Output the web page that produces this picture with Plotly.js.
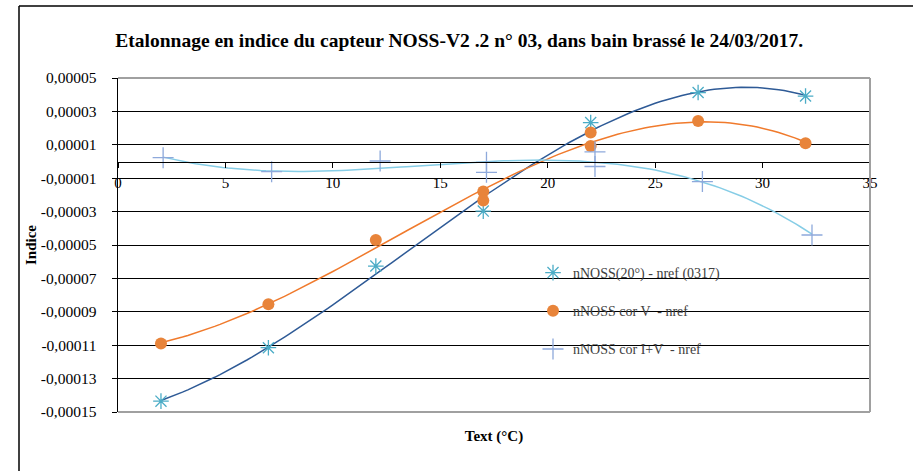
<!DOCTYPE html>
<html>
<head>
<meta charset="utf-8">
<script src="https://cdn.plot.ly/plotly-3.0.1.min.js"></script>
<style>html,body{margin:0;padding:0;background:#fff;}#chart{width:913px;height:471px;}</style>
</head>
<body>
<div id="chart"></div>
<script>
// ---- data ----
var seriesNames = ["nNOSS(20°) - nref (0317)", "nNOSS cor V  - nref", "nNOSS cor I+V  - nref"];

var x1 = [2, 7, 12, 17, 22, 27, 32];
var y1 = [-0.0001435, -0.0001115, -0.0000626, -0.0000297, 0.0000233, 0.0000413, 0.0000392];

var x2 = [2, 7, 12, 17, 17, 22, 22, 27, 32];
var y2 = [-0.000109, -0.0000855, -0.000047, -0.0000179, -0.0000233, 0.0000173, 0.0000093, 0.0000243, 0.0000109];

var x3 = [2.1, 7.15, 12.2, 17.15, 17.15, 22.2, 22.2, 27.2, 32.3];
var y3 = [0.0000023, -0.0000061, 0.0000003, -0.0000005, -0.0000065, 0.0000058, -0.0000030, -0.000012, -0.000044];

var yTickVals = [0.00005, 0.00003, 0.00001, -0.00001, -0.00003, -0.00005, -0.00007, -0.00009, -0.00011, -0.00013, -0.00015];
var yTickText = ["0,00005", "0,00003", "0,00001", "-0,00001", "-0,00003", "-0,00005", "-0,00007", "-0,00009", "-0,00011", "-0,00013", "-0,00015"];
var xTickVals = [0, 5, 10, 15, 20, 25, 30, 35];
var xTickText = ["0", "5", "10", "15", "20", "25", "30", "35"];

// ---- polynomial trend lines (least squares fit of the data) ----
function polyfit(xs, ys, deg) {
  var n = deg + 1, A = [], b = [];
  for (var i = 0; i < n; i++) {
    A.push([]);
    for (var j = 0; j < n; j++) {
      var s = 0;
      for (var k = 0; k < xs.length; k++) s += Math.pow(xs[k], i + j);
      A[i].push(s);
    }
    var t = 0;
    for (var k2 = 0; k2 < xs.length; k2++) t += ys[k2] * Math.pow(xs[k2], i);
    b.push(t);
  }
  for (var c = 0; c < n; c++) {
    var p = c;
    for (var r = c + 1; r < n; r++) if (Math.abs(A[r][c]) > Math.abs(A[p][c])) p = r;
    var tmp = A[c]; A[c] = A[p]; A[p] = tmp;
    var tb = b[c]; b[c] = b[p]; b[p] = tb;
    for (var r2 = c + 1; r2 < n; r2++) {
      var f = A[r2][c] / A[c][c];
      for (var cc = c; cc < n; cc++) A[r2][cc] -= f * A[c][cc];
      b[r2] -= f * b[c];
    }
  }
  var coef = new Array(n);
  for (var r3 = n - 1; r3 >= 0; r3--) {
    var s2 = b[r3];
    for (var cc2 = r3 + 1; cc2 < n; cc2++) s2 -= A[r3][cc2] * coef[cc2];
    coef[r3] = s2 / A[r3][r3];
  }
  return coef;
}
function trend(xs, ys, deg) {
  var coef = polyfit(xs, ys, deg);
  var lo = Math.min.apply(null, xs), hi = Math.max.apply(null, xs);
  var tx = [], ty = [];
  for (var i = 0; i <= 120; i++) {
    var xv = lo + (hi - lo) * i / 120, yv = 0;
    for (var j = 0; j < coef.length; j++) yv += coef[j] * Math.pow(xv, j);
    tx.push(xv); ty.push(yv);
  }
  return {x: tx, y: ty};
}
var t1 = trend(x1, y1, 3), t2 = trend(x2, y2, 3), t3 = trend(x3, y3, 3);

var serif = "Liberation Serif, Times New Roman, serif";

var traces = [
  {x: t1.x, y: t1.y, mode: "lines", line: {color: "#2E5A96", width: 1.5}, showlegend: false, hoverinfo: "skip"},
  {x: t2.x, y: t2.y, mode: "lines", line: {color: "#F07A2C", width: 1.5}, showlegend: false, hoverinfo: "skip"},
  {x: t3.x, y: t3.y, mode: "lines", line: {color: "#86CDE6", width: 1.5}, showlegend: false, hoverinfo: "skip"},
  {x: x1, y: y1, mode: "markers", name: seriesNames[0], legendgroup: "a",
   marker: {symbol: "asterisk-open", size: 13, line: {color: "#4BACC6", width: 1.3}, color: "#4BACC6"}},
  {x: x2, y: y2, mode: "markers", name: seriesNames[1], legendgroup: "b",
   marker: {symbol: "circle", size: 12, color: "#E8843A"}},
  {x: x3, y: y3, mode: "markers", name: seriesNames[2], legendgroup: "c",
   marker: {symbol: "cross-thin-open", size: 15, line: {color: "#8EA9DB", width: 1.3}, color: "#8EA9DB"}}
];

// plot area: left 118, right 870, top 78, bottom 412 (pixels)
var L = 118, R = 43, T = 78, B = 59, W = 913, H = 471;
var pw = W - L - R, ph = H - T - B;
function px(p) { return (p - L) / pw; }
function py(p) { return (H - B - p) / ph; }

var layout = {
  width: W, height: H,
  margin: {l: L, r: R, t: T, b: B, pad: 0},
  paper_bgcolor: "#ffffff", plot_bgcolor: "#ffffff",
  font: {family: serif, size: 14, color: "#000000"},
  title: {text: "<b>Etalonnage en indice du capteur NOSS-V2 .2 n° 03, dans bain brassé le 24/03/2017.</b>",
          font: {family: serif, size: 19.5, color: "#000000"}, x: 0.503, xanchor: "center", y: 1 - 40 / H, yanchor: "middle", yref: "container"},
  showlegend: true,
  legend: {x: px(533), y: py(257), xanchor: "left", yanchor: "top", bgcolor: "rgba(0,0,0,0)",
           font: {family: serif, size: 14, color: "#404040"}, traceorder: "grouped", tracegroupgap: 17},
  xaxis: {range: [0, 35], showticklabels: false, ticks: "", showgrid: false, zeroline: false, showline: false,
          title: {text: "<b>Text (°C)</b>", font: {family: serif, size: 15}, standoff: 18}},
  xaxis2: {overlaying: "x", matches: "x", anchor: "free", position: 0.75, side: "bottom",
           range: [0, 35], tickvals: xTickVals, ticktext: xTickText, ticks: "outside", ticklen: 5, tickcolor: "#000",
           showline: true, linecolor: "#000", linewidth: 1.5, showgrid: false, zeroline: false,
           ticklabelstandoff: 2, tickfont: {family: serif, size: 15, color: "#000"}},
  yaxis: {range: [-0.00015, 0.00005], tickvals: yTickVals, ticktext: yTickText, ticks: "outside", ticklen: 5, tickcolor: "#000",
          showline: true, linecolor: "#000", linewidth: 1.5, showgrid: true, gridcolor: "#000", gridwidth: 1, zeroline: false,
          ticklabelstandoff: 12, tickfont: {family: serif, size: 15.5, color: "#000"},
          title: {text: "<b>Indice</b>", font: {family: serif, size: 15}, standoff: 0}},
  shapes: [
    {type: "line", xref: "paper", yref: "paper", x0: 0, x1: 1, y0: 1, y1: 1, line: {color: "#A0A0A0", width: 2}},
    {type: "line", xref: "paper", yref: "paper", x0: 1, x1: 1, y0: 0, y1: 1, line: {color: "#A0A0A0", width: 2}},
    {type: "line", xref: "paper", yref: "paper", x0: 0, x1: 1, y0: 0, y1: 0, line: {color: "#A0A0A0", width: 2}},
    {type: "line", xref: "paper", yref: "paper", x0: px(19), x1: px(913), y0: py(6), y1: py(6), line: {color: "#000", width: 1.5}},
    {type: "line", xref: "paper", yref: "paper", x0: px(19), x1: px(19), y0: py(6), y1: py(471), line: {color: "#000", width: 1.5}}
  ]
};

// invisible trace so that the overlaid axis carrying the tick labels is drawn
traces.push({x: [0], y: [0], xaxis: "x2", mode: "markers", marker: {opacity: 0}, showlegend: false, hoverinfo: "skip"});

Plotly.newPlot("chart", traces, layout, {staticPlot: true, displayModeBar: false});
</script>
</body>
</html>
